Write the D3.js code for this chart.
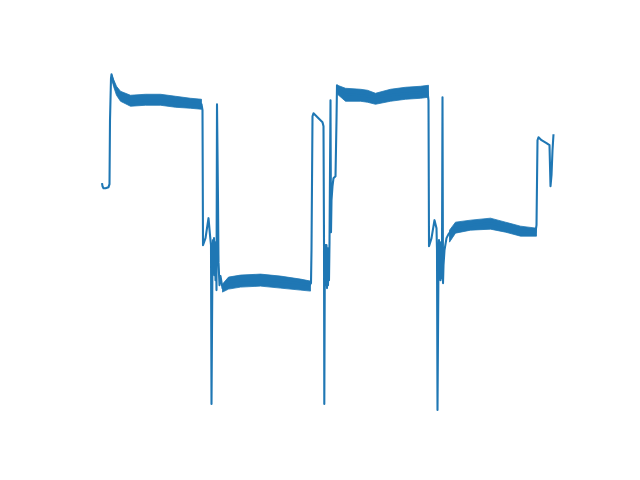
<!DOCTYPE html>
<html><head><meta charset="utf-8">
<script src="https://cdn.jsdelivr.net/npm/d3@7"></script>
<style>html,body{margin:0;padding:0;background:#fff}</style>
</head><body><svg id="c" width="640" height="480"></svg>
<script>
// main trace: time (samples) and value
const traceT = [-0.5,0,1,3,6,7,7.5,8.5,9,11,14,18,28,48,68,88,99,100,100.5,103,106,107.5,108.5,109,110,110.5,111,111.5,112,112.5,113,113.5,114,114.5,115.5,116,117,118,120,124,130,148,168,188,207,208.5,209,210,211,214,220,221,221.5,221.8,222.3,223,223.5,224,224.5,225,225.5,226,226.5,227,228,228.5,229,230,231,233,234,234.5,236,243,258,273,288,303,318,325,326,326.5,329,332,334,334.5,335,336,336.5,337,337.5,338,338.5,339,339.5,340,340.5,341,342,344,346,350,368,388,403,418,433,434,435,436,439,444,447,448,449,450,451];
const traceV = [227,224,222,222,223,226,290,332,336,328,320,314,309,310,310,307,306,300,165,172,192,175,165,6,155,170,140,172,135,165,130,168,120,306,210,148,125,134,122,127,129,130,130,128,125,127,160,294,297,294,288,284,170,6,140,165,125,165,122,162,125,160,130,167,310,178,210,224,232,234,290,325,321,316,315,313,315,317,318,319,310,164,172,190,182,160,0,150,170,132,168,130,165,132,160,313,127,145,160,172,176,181,185,187,183,179,178,185,270,273,270,267,265,224,235,260,276];

// noise envelopes on the four plateaus
const band1T = [9,11,14,18,28,43,58,73,88,99];
const band1Hi = [336,331,324,319,315,316,316,314,312,311];
const band1Lo = [332,324,315,309,304,305,305,303,302,301];
const band2T = [120,126,138,158,178,198,208];
const band2Hi = [126,133,135,136,134,131,129];
const band2Lo = [118,121,123,124,122,120,119];
const band3T = [235,243,258,265,273,288,303,318,326];
const band3Hi = [325,322,321,320,317,321,323,324,325];
const band3Lo = [316,309,309,308,306,309,311,312,313];
const band4T = [347,353,368,388,403,418,434];
const band4Hi = [180,188,190,192,188,184,182];
const band4Lo = [168,177,180,181,178,174,174];

const color = "#1f77b4";
const svg = d3.select("#c");
const x = d3.scaleLinear().domain([-22.5, 473.5]).range([80, 576]);
const y = d3.scaleLinear().domain([-12.4, 352.7]).range([422.4, 57.6]);

const bands = [[band1T,band1Hi,band1Lo],[band2T,band2Hi,band2Lo],[band3T,band3Hi,band3Lo],[band4T,band4Hi,band4Lo]];
const area = d3.area().x(d=>x(d.t)).y0(d=>y(d.lo)).y1(d=>y(d.hi));
bands.forEach(([T,H,L])=>{
  const pts = T.map((t,i)=>({t, hi:H[i], lo:L[i]}));
  svg.append("path").datum(pts).attr("d", area).attr("fill", color).attr("stroke", color).attr("stroke-width", 0.8);
});

const pts = traceT.map((t,i)=>[t, traceV[i]]);
const line = d3.line().x(d=>x(d[0])).y(d=>y(d[1]));
svg.append("path").datum(pts).attr("d", line)
  .attr("fill","none").attr("stroke", color).attr("stroke-width",2.08)
  .attr("stroke-linejoin","round").attr("stroke-linecap","butt");
</script></body></html>
